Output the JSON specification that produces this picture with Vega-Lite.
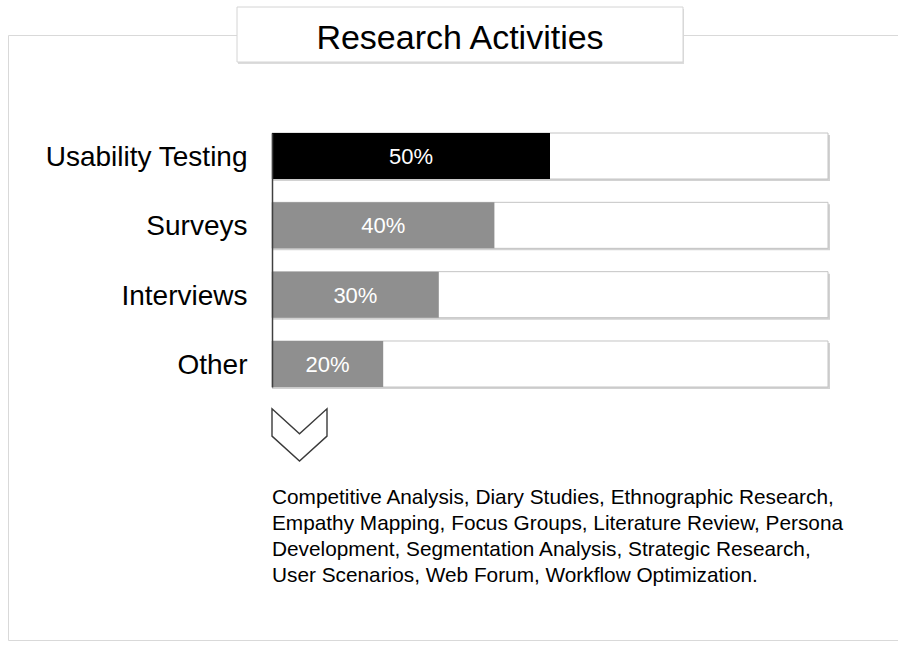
{
  "$schema": "https://vega.github.io/schema/vega-lite/v6.json",
  "width": 900,
  "height": 605,
  "autosize": "none",
  "padding": {"left": 8, "top": 35, "right": 0, "bottom": 5},
  "background": "white",
  "config": {"view": {"stroke": "#d9d9d9", "strokeWidth": 1}, "font": "Liberation Sans"},
  "datasets": {
    "activities": [
      {"activity": "Usability Testing", "share": 0.5},
      {"activity": "Surveys", "share": 0.4},
      {"activity": "Interviews", "share": 0.3},
      {"activity": "Other", "share": 0.2}
    ]
  },
  "resolve": {"scale": {"x": "independent", "y": "independent"}},
  "layer": [
    {
      "data": {"name": "activities"},
      "mark": {"type": "bar", "fill": "#d2d2d2", "xOffset": 2, "yOffset": 2},
      "encoding": {
        "x": {"datum": 1, "type": "quantitative", "scale": {"domain": [0, 1], "range": [264, 820]}, "axis": null},
        "y": {"field": "activity", "type": "nominal", "scale": {"type": "band", "domain": ["Usability Testing", "Surveys", "Interviews", "Other"], "range": [98, 352], "paddingInner": 0.3365, "paddingOuter": 0}, "axis": null}
      }
    },
    {
      "data": {"name": "activities"},
      "mark": {"type": "bar", "fill": "white", "stroke": "#c4c4c4", "strokeWidth": 1},
      "encoding": {
        "x": {"datum": 1, "type": "quantitative", "scale": {"domain": [0, 1], "range": [264, 820]}, "axis": null},
        "y": {
          "field": "activity", "type": "nominal",
          "scale": {"type": "band", "domain": ["Usability Testing", "Surveys", "Interviews", "Other"], "range": [98, 352], "paddingInner": 0.3365, "paddingOuter": 0},
          "axis": {"orient": "left", "offset": -264, "zindex": 1, "title": null, "ticks": false, "domainColor": "#404040", "domainWidth": 1.5, "labelFontSize": 28, "labelColor": "#000000", "labelPadding": 25, "labelOffset": 2, "labelLimit": 400, "labelFont": "Liberation Sans"}
        }
      }
    },
    {
      "data": {"name": "activities"},
      "mark": {"type": "bar"},
      "encoding": {
        "x": {"field": "share", "type": "quantitative", "scale": {"domain": [0, 1], "range": [264, 820]}, "axis": null},
        "y": {"field": "activity", "type": "nominal", "scale": {"type": "band", "domain": ["Usability Testing", "Surveys", "Interviews", "Other"], "range": [98, 352], "paddingInner": 0.3365, "paddingOuter": 0}, "axis": null},
        "color": {"field": "activity", "type": "nominal", "scale": {"domain": ["Usability Testing", "Surveys", "Interviews", "Other"], "range": ["#000000", "#8f8f8f", "#8f8f8f", "#8f8f8f"]}, "legend": null}
      }
    },
    {
      "data": {"name": "activities"},
      "mark": {"type": "text", "color": "white", "fontSize": 22, "align": "center", "baseline": "middle", "dy": 1},
      "encoding": {
        "x": {"field": "share", "type": "quantitative", "scale": {"domain": [0, 1], "range": [264, 542]}, "axis": null},
        "y": {"field": "activity", "type": "nominal", "scale": {"type": "band", "domain": ["Usability Testing", "Surveys", "Interviews", "Other"], "range": [98, 352], "paddingInner": 0.3365, "paddingOuter": 0}, "axis": null},
        "text": {"field": "share", "type": "quantitative", "format": ".0%"}
      }
    },
    {
      "data": {"values": [{"part": "expand"}]},
      "mark": {"type": "point", "shape": "M0,-0.95L1,-0.04L2,-0.95L2,0.04L1,0.95L0,0.04Z", "size": 3025, "filled": true, "fill": "white", "stroke": "#3a3a3a", "strokeWidth": 1.4, "opacity": 1},
      "encoding": {
        "x": {"datum": 0, "type": "quantitative", "scale": {"domain": [0, 1], "range": [264, 820]}, "axis": null},
        "y": {"field": "part", "type": "nominal", "scale": {"type": "band", "domain": ["expand", "list"], "range": [365.3, 504], "paddingInner": 0, "paddingOuter": 0}, "axis": null}
      }
    },
    {
      "data": {"values": [{"part": "list", "text": "Competitive Analysis, Diary Studies, Ethnographic Research,\nEmpathy Mapping, Focus Groups, Literature Review, Persona\nDevelopment, Segmentation Analysis, Strategic Research,\nUser Scenarios, Web Forum, Workflow Optimization."}]},
      "mark": {"type": "text", "align": "left", "baseline": "alphabetic", "fontSize": 20.8, "lineHeight": 26, "lineBreak": "\n", "color": "#000000"},
      "encoding": {
        "x": {"datum": 0, "type": "quantitative", "scale": {"domain": [0, 1], "range": [264, 820]}, "axis": null},
        "y": {"field": "part", "type": "nominal", "scale": {"type": "band", "domain": ["expand", "list"], "range": [365.3, 504], "paddingInner": 0, "paddingOuter": 0}, "axis": null},
        "text": {"field": "text", "type": "nominal"}
      }
    },
    {
      "data": {"values": [{"title": "Research Activities"}]},
      "mark": {"type": "rect", "fill": "#dcdcdc", "xOffset": 1, "yOffset": 2},
      "encoding": {
        "x": {"field": "title", "type": "nominal", "scale": {"type": "band", "range": [229, 675], "paddingInner": 0, "paddingOuter": 0}, "axis": null},
        "y": {"field": "title", "type": "nominal", "scale": {"type": "band", "range": [-28, 27], "paddingInner": 0, "paddingOuter": 0}, "axis": null}
      }
    },
    {
      "data": {"values": [{"title": "Research Activities"}]},
      "mark": {"type": "rect", "fill": "white", "stroke": "#d4d4d4", "strokeWidth": 1},
      "encoding": {
        "x": {"field": "title", "type": "nominal", "scale": {"type": "band", "range": [229, 675], "paddingInner": 0, "paddingOuter": 0}, "axis": null},
        "y": {"field": "title", "type": "nominal", "scale": {"type": "band", "range": [-28, 27], "paddingInner": 0, "paddingOuter": 0}, "axis": null}
      }
    },
    {
      "data": {"values": [{"title": "Research Activities"}]},
      "mark": {"type": "text", "fontSize": 34, "align": "center", "baseline": "middle", "dy": 4, "color": "#000000"},
      "encoding": {
        "x": {"field": "title", "type": "nominal", "scale": {"type": "band", "range": [229, 675], "paddingInner": 0, "paddingOuter": 0}, "axis": null},
        "y": {"field": "title", "type": "nominal", "scale": {"type": "band", "range": [-28, 27], "paddingInner": 0, "paddingOuter": 0}, "axis": null},
        "text": {"field": "title", "type": "nominal"}
      }
    }
  ]
}
